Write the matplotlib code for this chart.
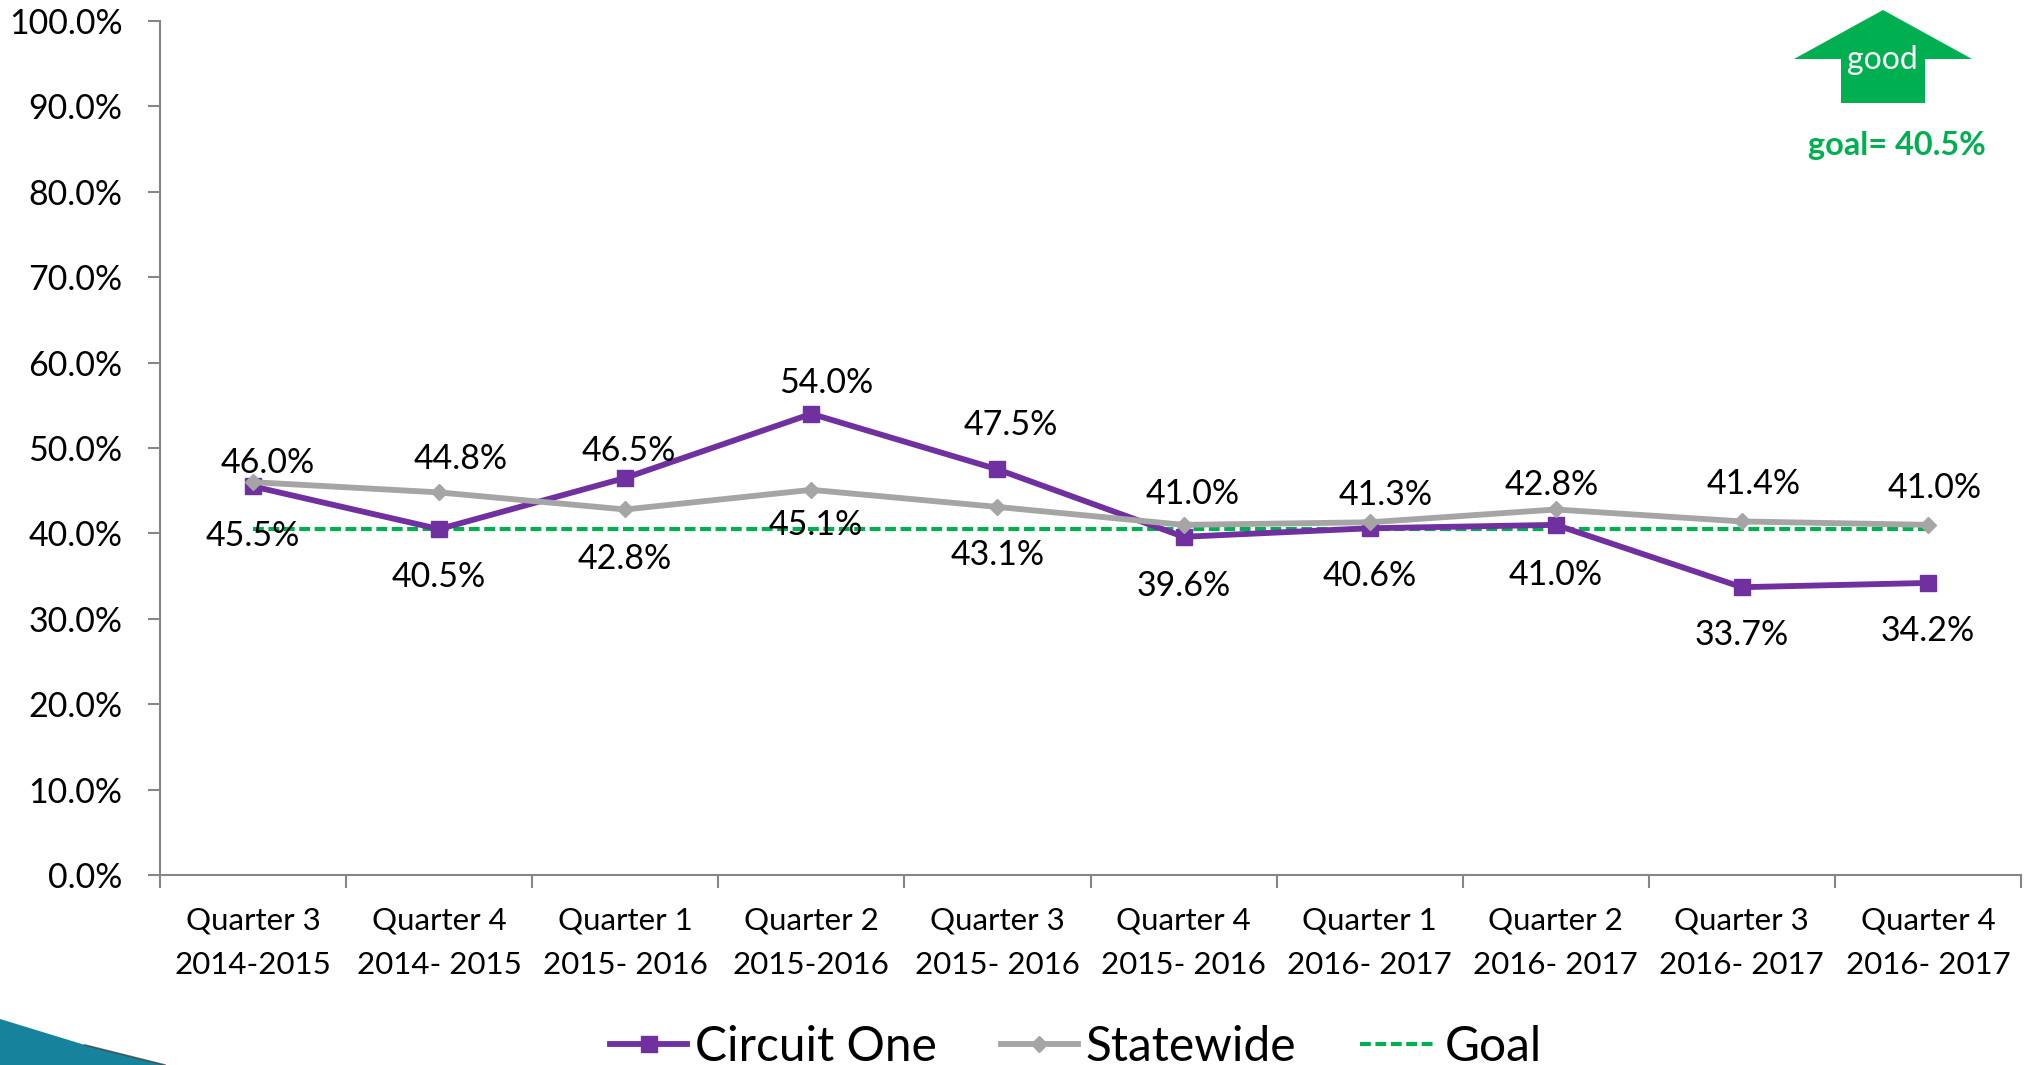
import matplotlib
matplotlib.use("Agg")
import matplotlib.pyplot as plt
from matplotlib.patches import Polygon

plt.rcParams["font.family"] = ["Lato", "DejaVu Sans"]

W, H = 2035, 1065

quarters = ["Quarter 3\n2014-2015", "Quarter 4\n2014- 2015", "Quarter 1\n2015- 2016", "Quarter 2\n2015-2016",
            "Quarter 3\n2015- 2016", "Quarter 4\n2015- 2016", "Quarter 1\n2016- 2017", "Quarter 2\n2016- 2017",
            "Quarter 3\n2016- 2017", "Quarter 4\n2016- 2017"]
circuit = [45.5, 40.5, 46.5, 54.0, 47.5, 39.6, 40.6, 41.0, 33.7, 34.2]
statewide = [46.0, 44.8, 42.8, 45.1, 43.1, 41.0, 41.3, 42.8, 41.4, 41.0]
goal = [40.5] * 10

# label offsets from the point, in pixels
circuit_off = [(0, -50), (0, -48), (4, 27), (15, 31), (13, 44), (0, -49), (0, -48), (0, -50), (0, -48), (0, -48)]
state_off = [(15, 19), (22, 33), (0, -50), (4, -35), (0, -48), (9, 31), (16, 27), (-4, 24), (12, 37), (7, 37)]

purple = "#7030A0"
grey = "#A5A5A5"
green = "#00B050"
axis_grey = "#868686"

fig = plt.figure(figsize=(W / 100, H / 100), dpi=100)

# bottom left corner decoration and the arrow, in pixels
bg = fig.add_axes([0, 0, 1, 1], zorder=0)
bg.set_xlim(0, W)
bg.set_ylim(H, 0)
bg.axis("off")
bg.add_patch(Polygon([(0, 1019), (85, 1045), (165, 1065), (0, 1065)], color="#17829C", lw=0))
bg.plot([85, 165], [1045, 1065], color="#333333", lw=1.2, alpha=0.7)
bg.add_patch(Polygon([(1883, 10), (1972, 59), (1925, 59), (1925, 103), (1841, 103), (1841, 59), (1794, 59)],
                     color=green, lw=0))
bg.text(1882, 60, "good", color="white", fontsize=23, ha="center", va="center")
bg.text(1897, 145, "goal= 40.5%", color=green, fontsize=23.4, fontweight="bold", ha="center", va="center")

ax = fig.add_axes([160 / W, 1 - 875 / H, (2021 - 160) / W, (875 - 21) / H], zorder=1)
ax.patch.set_alpha(0)
x = [i + 0.5 for i in range(10)]
ax.plot(x, circuit, color=purple, lw=4.2, marker="s", ms=11.5, label="Circuit One", zorder=4)
ax.plot(x, statewide, color=grey, lw=4.2, marker="D", ms=8, label="Statewide", zorder=5)
ax.plot(x, goal, color=green, lw=3, ls=(0, (2.6, 1.1)), label="Goal", zorder=3)

for xi, v, off in zip(x, circuit, circuit_off):
    ax.annotate("%.1f%%" % v, (xi, v), xytext=(off[0] * 0.72, off[1] * 0.72), textcoords="offset points",
                ha="center", va="center", fontsize=24.5, color="black", zorder=6)
for xi, v, off in zip(x, statewide, state_off):
    ax.annotate("%.1f%%" % v, (xi, v), xytext=(off[0] * 0.72, off[1] * 0.72), textcoords="offset points",
                ha="center", va="center", fontsize=24.5, color="black", zorder=6)

ax.set_xlim(0, 10)
ax.set_ylim(0, 100)
ax.set_yticks(range(0, 101, 10))
ax.set_yticklabels(["%.1f%%" % t for t in range(0, 101, 10)], fontsize=24.4)
ax.set_xticks(range(0, 11))
ax.set_xticklabels([])
ax.set_xticks(x, minor=True)
ax.set_xticklabels(quarters, minor=True, fontsize=22.5, linespacing=1.7)
ax.tick_params(axis="y", length=9, width=1.5, color=axis_grey, pad=18)
ax.tick_params(axis="x", which="major", length=9, width=1.5, color=axis_grey)
ax.tick_params(axis="x", which="minor", length=0, pad=23)
for s in ["top", "right"]:
    ax.spines[s].set_visible(False)
for s in ["left", "bottom"]:
    ax.spines[s].set_color(axis_grey)
    ax.spines[s].set_linewidth(1.5)

ax.legend(loc="center", bbox_to_anchor=(1076 / W, 1 - 1047 / H), bbox_transform=fig.transFigure, ncol=3,
          frameon=False, fontsize=34.5, handlelength=1.6, handletextpad=0.16, columnspacing=1.34, borderpad=0)

fig.savefig("out.png", dpi=100)
